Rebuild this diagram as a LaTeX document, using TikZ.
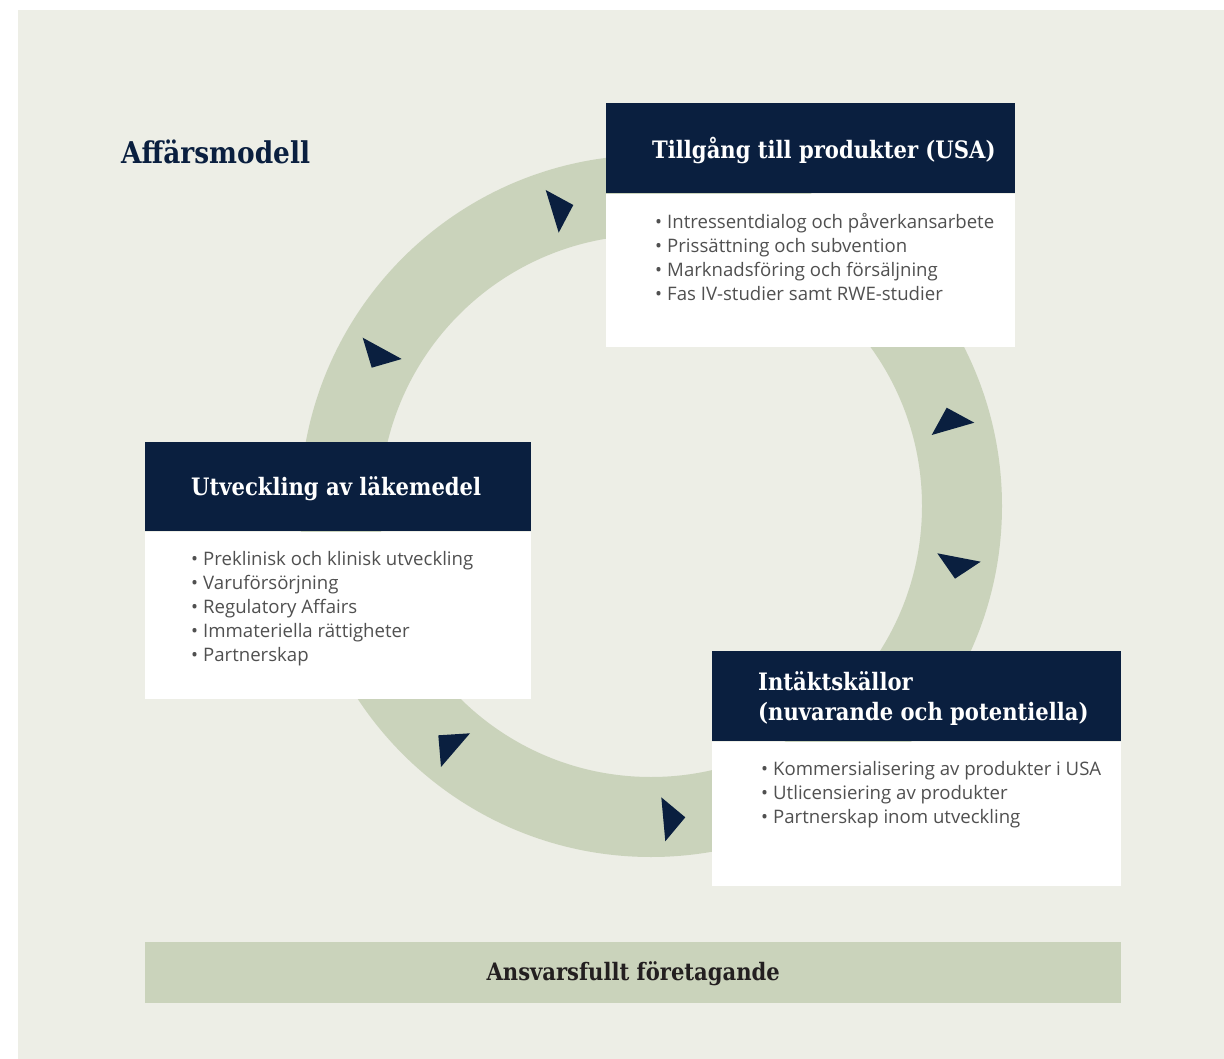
\documentclass[tikz,border=0pt]{standalone}
\usepackage{fontspec}
\setmainfont{Open Sans}
\newfontfamily\slab[FakeStretch=0.88]{DejaVu Serif}
\usetikzlibrary{positioning}

\definecolor{bg}{HTML}{EDEEE6}
\definecolor{ring}{HTML}{CAD3BB}
\definecolor{navy}{HTML}{0A1F3F}
\definecolor{ink}{HTML}{505050}
\definecolor{barink}{HTML}{231F20}

\newcommand{\pkt}{\makebox[12pt][l]{\textbullet}}

\tikzset{
  headbox/.style={fill=navy, anchor=north west, inner sep=0pt, minimum height=90pt},
  bodybox/.style={fill=white, inner sep=0pt},
  headtext/.style={text=white, anchor=west, inner sep=0pt, align=left, yshift=-2pt,
    font=\slab\bfseries\fontsize{24}{30}\selectfont},
  listtext/.style={text=ink, anchor=north west, inner sep=0pt, align=left,
    font=\fontsize{18.6}{24}\selectfont}
}

\begin{document}
\begin{tikzpicture}[x=1pt, y=-1pt]
    \useasboundingbox (0,0) rectangle (1224,1059);
    \fill[bg] (18,10) rectangle (1224,1059);

    % ring and its arrows
    \coordinate (hub) at (651,506);
    \fill[ring, even odd rule] (hub) circle (351) (hub) circle (271);
    \fill[navy] (545.7,190) -- (573.3,205) -- (558.7,232.7) -- cycle;
    \fill[navy] (362.7,337.7) -- (401.7,359) -- (371.7,367.7) -- cycle;
    \fill[navy] (946.7,407.7) -- (974.3,422.7) -- (931.7,435) -- cycle;
    \fill[navy] (937.3,553.3) -- (980.7,561.7) -- (955,578.7) -- cycle;
    \fill[navy] (661.3,797.3) -- (685.3,817.3) -- (665.3,841.3) -- cycle;
    \fill[navy] (438.3,735.3) -- (470,733.3) -- (441,767) -- cycle;

    \node[text=navy, anchor=west, inner sep=0pt,
        font=\slab\bfseries\fontsize{30}{34}\selectfont] (title) at (121,152) {Affärsmodell};

    % access
    \node[headbox, minimum width=409pt] (usahead) at (606,103) {};
    \node[bodybox, minimum width=409pt, minimum height=153pt, below=0pt of usahead] (usabody) {};
    \node[headtext] (usatitle) at ([xshift=46pt]usahead.west) {Tillgång till produkter (USA)};
    \node[listtext] (usalist) at ([xshift=49pt,yshift=-20pt]usabody.north west)
        {\pkt Intressentdialog och påverkansarbete\\
         \pkt Prissättning och subvention\\
         \pkt Marknadsföring och försäljning\\
         \pkt Fas IV-studier samt RWE-studier};

    % development
    \node[headbox, minimum width=386pt, minimum height=89pt] (devhead) at (145,442) {};
    \node[bodybox, minimum width=386pt, minimum height=167pt, below=0pt of devhead] (devbody) {};
    \node[headtext] (devtitle) at ([xshift=46pt]devhead.west) {Utveckling av läkemedel};
    \node[listtext] (devlist) at ([xshift=46pt,yshift=-20pt]devbody.north west)
        {\pkt Preklinisk och klinisk utveckling\\
         \pkt Varuförsörjning\\
         \pkt Regulatory Affairs\\
         \pkt Immateriella rättigheter\\
         \pkt Partnerskap};

    % revenue
    \node[headbox, minimum width=409pt] (revhead) at (712,651) {};
    \node[bodybox, minimum width=409pt, minimum height=144pt, below=0pt of revhead] (revbody) {};
    \node[headtext] (revtitle) at ([xshift=46pt]revhead.west) {Intäktskällor\\(nuvarande och potentiella)};
    \node[listtext] (revlist) at ([xshift=49pt,yshift=-20pt]revbody.north west)
        {\pkt Kommersialisering av produkter i USA\\
         \pkt Utlicensiering av produkter\\
         \pkt Partnerskap inom utveckling};

    \node[fill=ring, anchor=north west, inner sep=0pt, minimum width=976pt, minimum height=61pt,
        text height=16pt, text depth=0pt,
        text=barink, font=\slab\bfseries\fontsize{24}{30}\selectfont] (bar) at (145,942)
        {Ansvarsfullt företagande};
\end{tikzpicture}
\end{document}
